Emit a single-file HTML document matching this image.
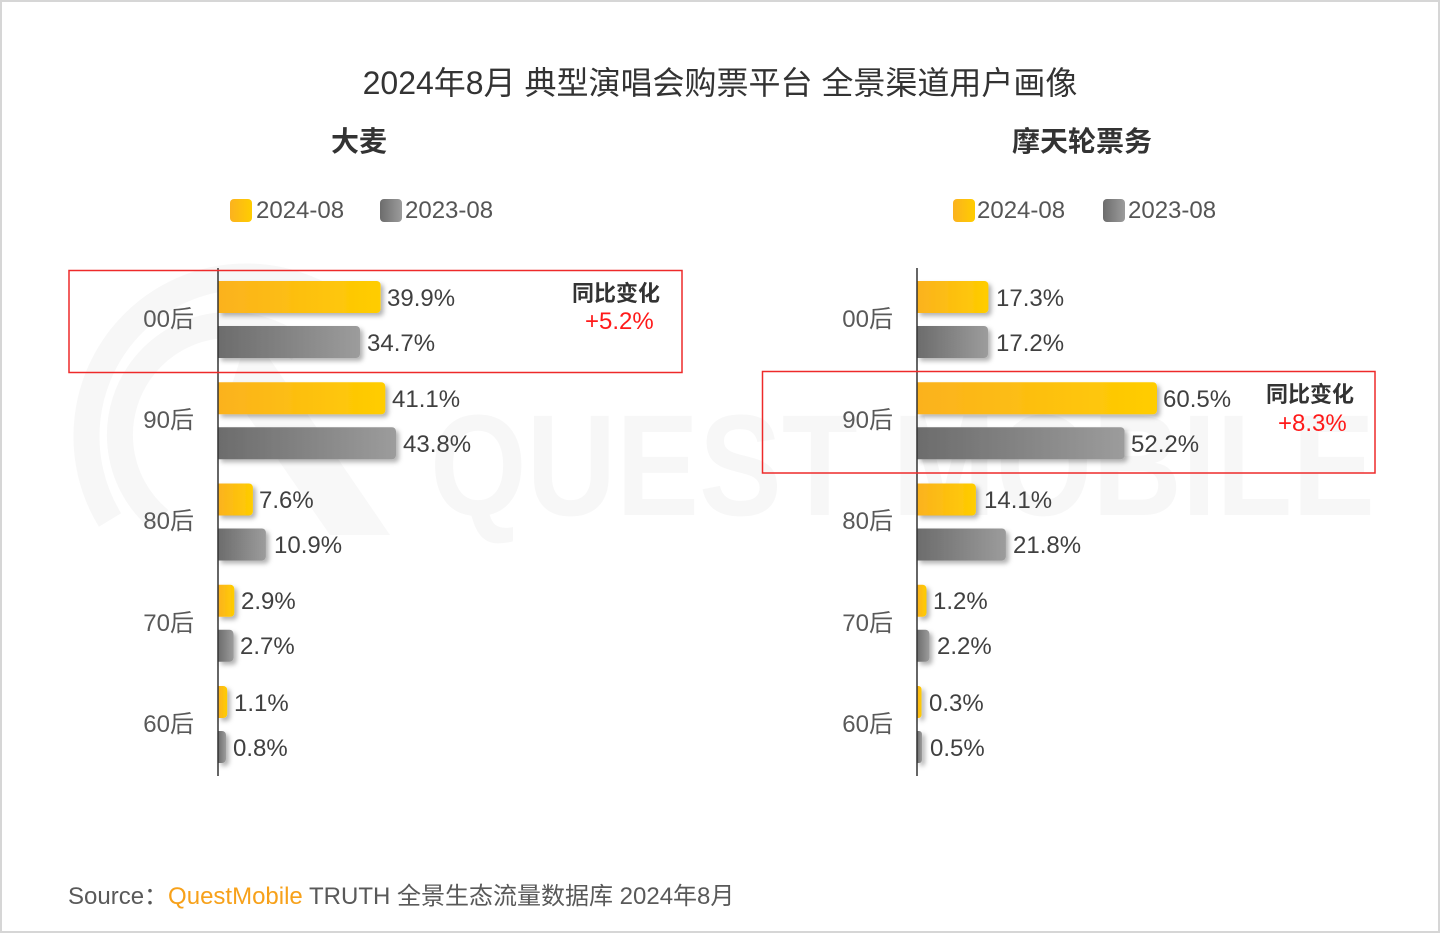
<!DOCTYPE html>
<html><head><meta charset="utf-8"><style>
html,body{margin:0;padding:0;background:#fff;}
svg{display:block;}
text{font-family:"Liberation Sans","Noto Sans CJK SC",sans-serif;}
</style></head><body>
<svg width="1440" height="933" viewBox="0 0 1440 933" xmlns="http://www.w3.org/2000/svg">
<defs>
<linearGradient id="gy" x1="0" y1="0" x2="1" y2="0"><stop offset="0" stop-color="#fbb21f"/><stop offset="1" stop-color="#ffcd00"/></linearGradient>
<linearGradient id="gg" x1="0" y1="0" x2="1" y2="0"><stop offset="0" stop-color="#6c6c6c"/><stop offset="1" stop-color="#9c9c9c"/></linearGradient>
<filter id="sh" x="-20%" y="-30%" width="160%" height="180%"><feDropShadow dx="3" dy="3" stdDeviation="2.5" flood-color="#000" flood-opacity="0.3"/></filter>
</defs>
<rect x="1" y="1" width="1438" height="931" fill="#fff" stroke="#d6d6d6" stroke-width="2"/>
<!-- watermark -->
<g fill="none" stroke="#f7f7f7" stroke-width="26">
<path d="M 110 520 A 160 160 0 0 1 330 300"/>
<path d="M 160 520 A 110 110 0 0 1 300 350"/>
</g>
<path d="M 250 330 L 390 535 L 330 535 L 230 390 Z" fill="#f8f8f8"/>
<text x="430" y="515" font-size="144" font-weight="bold" fill="#f7f7f7" textLength="945" lengthAdjust="spacingAndGlyphs">QUEST MOBILE</text>

<text x="720" y="94" font-size="32" fill="#333" text-anchor="middle">2024年8月 典型演唱会购票平台 全景渠道用户画像</text>
<text x="359" y="151" font-size="28" fill="#333" text-anchor="middle" font-weight="bold">大麦</text>
<text x="1082" y="151" font-size="28" fill="#333" text-anchor="middle" font-weight="bold">摩天轮票务</text>

<!-- legends -->
<rect x="230" y="199" width="22" height="23" rx="4" fill="url(#gy)"/>
<text x="256" y="218" font-size="24" fill="#555">2024-08</text>
<rect x="380" y="199" width="22" height="23" rx="4" fill="url(#gg)"/>
<text x="405" y="218" font-size="24" fill="#555">2023-08</text>
<rect x="953" y="199" width="22" height="23" rx="4" fill="url(#gy)"/>
<text x="977" y="218" font-size="24" fill="#555">2024-08</text>
<rect x="1103" y="199" width="22" height="23" rx="4" fill="url(#gg)"/>
<text x="1128" y="218" font-size="24" fill="#555">2023-08</text>

<!-- left bars -->
<g filter="url(#sh)">
<path d="M218 281 h158.6 a4 4 0 0 1 4 4 v24 a4 4 0 0 1 -4 4 h-158.6 z" fill="url(#gy)"/>
<path d="M218 326 h138 a4 4 0 0 1 4 4 v24 a4 4 0 0 1 -4 4 h-138 z" fill="url(#gg)"/>
<path d="M218 382.25 h163.3 a4 4 0 0 1 4 4 v24 a4 4 0 0 1 -4 4 h-163.3 z" fill="url(#gy)"/>
<path d="M218 427.25 h174 a4 4 0 0 1 4 4 v24 a4 4 0 0 1 -4 4 h-174 z" fill="url(#gg)"/>
<path d="M218 483.5 h30.9 a4 4 0 0 1 4 4 v24 a4 4 0 0 1 -4 4 h-30.9 z" fill="url(#gy)"/>
<path d="M218 528.5 h43.9 a4 4 0 0 1 4 4 v24 a4 4 0 0 1 -4 4 h-43.9 z" fill="url(#gg)"/>
<path d="M218 584.75 h12.3 a4 4 0 0 1 4 4 v24 a4 4 0 0 1 -4 4 h-12.3 z" fill="url(#gy)"/>
<path d="M218 629.75 h11.5 a4 4 0 0 1 4 4 v24 a4 4 0 0 1 -4 4 h-11.5 z" fill="url(#gg)"/>
<path d="M218 686 h5.2 a4 4 0 0 1 4 4 v24 a4 4 0 0 1 -4 4 h-5.2 z" fill="url(#gy)"/>
<path d="M218 731 h4 a4 4 0 0 1 4 4 v24 a4 4 0 0 1 -4 4 h-4 z" fill="url(#gg)"/>
</g>
<!-- right bars -->
<g filter="url(#sh)">
<path d="M917 281 h67.4 a4 4 0 0 1 4 4 v24 a4 4 0 0 1 -4 4 h-67.4 z" fill="url(#gy)"/>
<path d="M917 326 h67 a4 4 0 0 1 4 4 v24 a4 4 0 0 1 -4 4 h-67 z" fill="url(#gg)"/>
<path d="M917 382.25 h236 a4 4 0 0 1 4 4 v24 a4 4 0 0 1 -4 4 h-236 z" fill="url(#gy)"/>
<path d="M917 427.25 h203.6 a4 4 0 0 1 4 4 v24 a4 4 0 0 1 -4 4 h-203.6 z" fill="url(#gg)"/>
<path d="M917 483.5 h54.9 a4 4 0 0 1 4 4 v24 a4 4 0 0 1 -4 4 h-54.9 z" fill="url(#gy)"/>
<path d="M917 528.5 h84.9 a4 4 0 0 1 4 4 v24 a4 4 0 0 1 -4 4 h-84.9 z" fill="url(#gg)"/>
<path d="M917 584.75 h5.5 a4 4 0 0 1 4 4 v24 a4 4 0 0 1 -4 4 h-5.5 z" fill="url(#gy)"/>
<path d="M917 629.75 h8.4 a4 4 0 0 1 4 4 v24 a4 4 0 0 1 -4 4 h-8.4 z" fill="url(#gg)"/>
<path d="M917 686 h1.5 a3 3 0 0 1 3 3 v26 a3 3 0 0 1 -3 3 h-1.5 z" fill="url(#gy)"/>
<path d="M917 731 h2 a3 3 0 0 1 3 3 v26 a3 3 0 0 1 -3 3 h-2 z" fill="url(#gg)"/>
</g>

<!-- axes -->
<line x1="218" y1="268" x2="218" y2="776" stroke="#333" stroke-width="1.5"/>
<line x1="917" y1="268" x2="917" y2="776" stroke="#333" stroke-width="1.5"/>

<!-- category labels -->
<g font-size="24" fill="#595959" text-anchor="end">
<text x="194" y="327">00后</text>
<text x="194" y="428">90后</text>
<text x="194" y="529">80后</text>
<text x="194" y="631">70后</text>
<text x="194" y="732">60后</text>
<text x="893" y="327">00后</text>
<text x="893" y="428">90后</text>
<text x="893" y="529">80后</text>
<text x="893" y="631">70后</text>
<text x="893" y="732">60后</text>
</g>

<!-- value labels -->
<g font-size="24" fill="#404040">
<text x="387" y="306">39.9%</text>
<text x="367" y="351">34.7%</text>
<text x="392" y="407">41.1%</text>
<text x="403" y="452">43.8%</text>
<text x="259" y="508">7.6%</text>
<text x="274" y="553">10.9%</text>
<text x="241" y="609">2.9%</text>
<text x="240" y="654">2.7%</text>
<text x="234" y="711">1.1%</text>
<text x="233" y="756">0.8%</text>
<text x="996" y="306">17.3%</text>
<text x="996" y="351">17.2%</text>
<text x="1163" y="407">60.5%</text>
<text x="1131" y="452">52.2%</text>
<text x="984" y="508">14.1%</text>
<text x="1013" y="553">21.8%</text>
<text x="933" y="609">1.2%</text>
<text x="937" y="654">2.2%</text>
<text x="929" y="711">0.3%</text>
<text x="930" y="756">0.5%</text>
</g>

<!-- highlight boxes -->
<rect x="69" y="270.5" width="613" height="102" fill="none" stroke="#ee2a2a" stroke-width="1.5"/>
<rect x="762.5" y="371.5" width="612.5" height="101.5" fill="none" stroke="#ee2a2a" stroke-width="1.5"/>
<text x="572" y="301" font-size="22" fill="#333" font-weight="bold">同比变化</text>
<text x="585" y="329" font-size="24" fill="#ff1a1a">+5.2%</text>
<text x="1266" y="402" font-size="22" fill="#333" font-weight="bold">同比变化</text>
<text x="1278" y="431" font-size="24" fill="#ff1a1a">+8.3%</text>

<!-- source -->
<text x="68" y="904" font-size="24" fill="#595959">Source：<tspan fill="#f7a11a">QuestMobile</tspan> TRUTH 全景生态流量数据库 2024年8月</text>
</svg>
</body></html>
